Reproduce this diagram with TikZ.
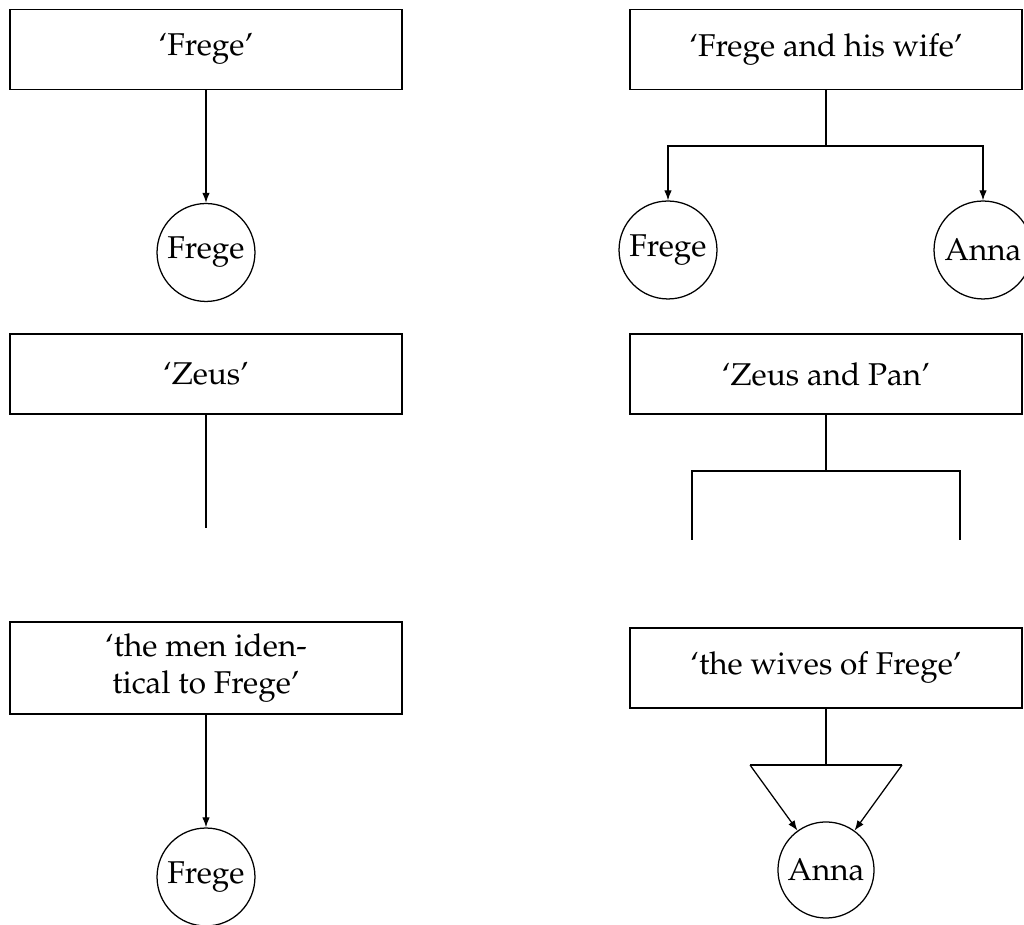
\documentclass[tikz,border=0pt]{standalone}
\usepackage[T1]{fontenc}
\usepackage{mathpazo}
\usetikzlibrary{arrows.meta}

\tikzset{
  term/.style={draw, line width=0.4pt, minimum width=124.5pt, minimum height=25.4pt,
    inner sep=0pt, align=center, font=\fontsize{10}{12}\selectfont},
  termtall/.style={term, minimum height=29.2pt},
  obj/.style={draw, circle, line width=0.4pt, minimum size=31.1pt, inner sep=0pt,
    font=\fontsize{10}{12}\selectfont},
  link/.style={line width=0.4pt},
  refer/.style={link, -{Latex[length=3.2pt, width=2.4pt]}},
}

\begin{document}
\begin{tikzpicture}[x=0.3175pt, y=-0.3175pt]
  \useasboundingbox (0,0) rectangle (1024,925);
  \clip (0,0) rectangle (1024,925);

  % singular term with a referent
  \node[term] (frege) at (206,49.25) {`Frege'};
  \node[obj] (fregeA) at (206,252.5) {Frege};
  \draw[refer] (frege.south) -- (fregeA);

  % plural term with two referents
  \node[term] (couple) at (826,49.25) {`Frege and his wife'};
  \node[obj] (fregeB) at (668,250) {Frege};
  \node[obj] (anna) at (983,250) {Anna};
  \coordinate (coupleJ) at (826,146);
  \draw[link] (couple.south) -- (coupleJ);
  \draw[refer] (coupleJ) -| (fregeB);
  \draw[refer] (coupleJ) -| (anna);

  % empty singular term
  \node[term] (zeus) at (206,374) {`Zeus'};
  \coordinate (zeusEnd) at (206,528);
  \draw[link] (zeus.south) -- (zeusEnd);

  % empty plural term
  \node[term] (zeuspan) at (826,374) {`Zeus and Pan'};
  \coordinate (zpJ) at (826,471);
  \coordinate (zpL) at (692,471);
  \coordinate (zpR) at (960,471);
  \coordinate (zpLend) at (692,540);
  \coordinate (zpRend) at (960,540);
  \draw[link] (zeuspan.south) -- (zpJ);
  \draw[link] (zpLend) -- (zpL) -- (zpR) -- (zpRend);

  % plural description with one referent
  \node[termtall] (ident) at (206,668) {`the men iden-\\tical to Frege'};
  \node[obj] (fregeC) at (206,877) {Frege};
  \draw[refer] (ident.south) -- (fregeC);

  % plural description, funnel onto a single referent
  \node[term] (wives) at (826,668) {`the wives of Frege'};
  \node[obj, minimum size=30.5pt] (annaB) at (826,870) {Anna};
  \coordinate (wivesJ) at (826,765);
  \coordinate (funL) at (750,765);
  \coordinate (funR) at (902,765);
  \draw[link] (wives.south) -- (wivesJ);
  \draw[link] (funL) -- (funR);
  \draw[refer] (funL) -- (annaB);
  \draw[refer] (funR) -- (annaB);
\end{tikzpicture}
\end{document}
